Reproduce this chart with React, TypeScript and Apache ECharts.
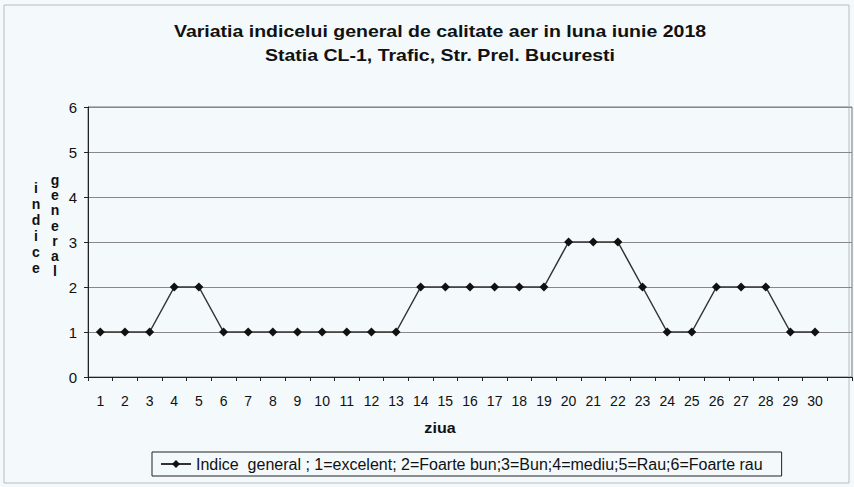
import React, { useEffect, useRef } from "react";
import * as echarts from "echarts";

const days = ["1","2","3","4","5","6","7","8","9","10","11","12","13","14","15","16","17","18","19","20","21","22","23","24","25","26","27","28","29","30",""];
const indiceGeneral = [1,1,1,2,2,1,1,1,1,1,1,1,1,2,2,2,2,2,2,3,3,3,2,1,1,2,2,2,1,1];
const yTicks = [0, 6, 1];
const titleLines = ["Variatia indicelui general de calitate aer in luna iunie 2018", "Statia CL-1, Trafic, Str. Prel. Bucuresti"];
const seriesName = "Indice  general ; 1=excelent; 2=Foarte bun;3=Bun;4=mediu;5=Rau;6=Foarte rau";

const FONT = "'Liberation Sans', Arial, sans-serif";

export default function App() {
  const ref = useRef<HTMLDivElement>(null);
  useEffect(() => {
    document.body.style.margin = "0";
    const chart = echarts.init(ref.current!, null, { renderer: "svg" });
    chart.setOption({
      animation: false,
      backgroundColor: "#f4f9fc",
      textStyle: { fontFamily: FONT },
      graphic: [
        { type: "rect", shape: { x: 4, y: 5, width: 845, height: 478 }, style: { fill: "none", stroke: "#b8bcc0", lineWidth: 1 }, silent: true },
        { type: "text", x: 440, y: 32, scaleX: 1.22, style: { text: titleLines[0], font: `bold 16px ${FONT}`, fill: "#111", textAlign: "center", textVerticalAlign: "middle" } },
        { type: "text", x: 440, y: 56, scaleX: 1.22, style: { text: titleLines[1], font: `bold 16px ${FONT}`, fill: "#111", textAlign: "center", textVerticalAlign: "middle" } },
        { type: "text", x: 36, y: 180, style: { text: "indice".split("").join("\n"), font: `bold 14px ${FONT}`, fill: "#111", textAlign: "center", lineHeight: 16 } },
        { type: "text", x: 55, y: 172, style: { text: "general".split("").join("\n"), font: `bold 14px ${FONT}`, fill: "#111", textAlign: "center", lineHeight: 15.3 } },
        { type: "text", x: 440, y: 428, scaleX: 1.15, style: { text: "ziua", font: `bold 14px ${FONT}`, fill: "#111", textAlign: "center", textVerticalAlign: "middle" } },
      ],
      grid: { left: 88, right: 2, top: 107, bottom: 110, show: true, borderColor: "#777", borderWidth: 1, backgroundColor: "#f4f9fc" },
      legend: {
        top: 452, left: 152,
        data: [seriesName],
        borderColor: "#222", borderWidth: 1, padding: [4, 19, 4, 8],
        itemWidth: 30, itemHeight: 10, itemGap: 5,
        textStyle: { fontSize: 16, color: "#111", fontFamily: FONT },
      },
      xAxis: {
        type: "category",
        data: days,
        boundaryGap: true,
        axisLine: { lineStyle: { color: "#222" } },
        axisTick: { show: true, length: 4, lineStyle: { color: "#222" }, interval: 0 },
        axisLabel: { color: "#111", fontSize: 14, margin: 17, interval: 0, fontFamily: FONT },
      },
      yAxis: {
        type: "value",
        min: yTicks[0], max: yTicks[1], interval: yTicks[2],
        axisLine: { show: true, lineStyle: { color: "#222" } },
        axisTick: { show: true, length: 4, lineStyle: { color: "#222" } },
        axisLabel: { color: "#111", fontSize: 15, margin: 11, fontFamily: FONT },
        splitLine: { lineStyle: { color: "#888" } },
      },
      series: [
        {
          name: seriesName,
          type: "line",
          data: indiceGeneral,
          symbol: "diamond",
          symbolSize: 9,
          itemStyle: { color: "#111" },
          lineStyle: { color: "#333", width: 1.5 },
        },
      ],
    });
    return () => chart.dispose();
  }, []);
  return <div ref={ref} style={{ width: 854, height: 487 }} />;
}
